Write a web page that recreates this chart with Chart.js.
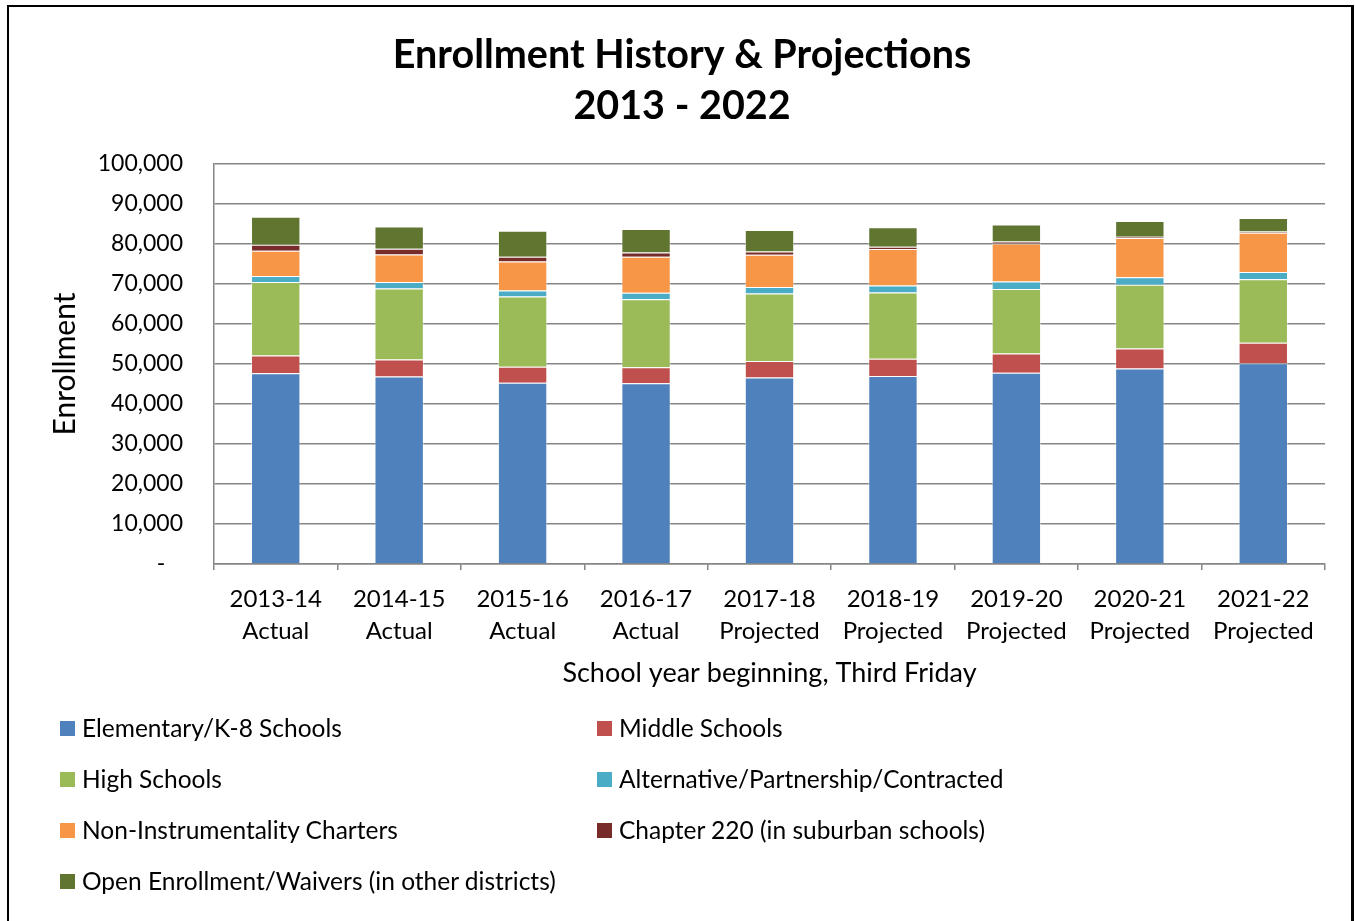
<!DOCTYPE html>
<html>
<head>
<meta charset="utf-8">
<script src="https://cdn.jsdelivr.net/npm/chart.js@4.4.1/dist/chart.umd.min.js"></script>
<style>
html,body{margin:0;padding:0;background:#fff;width:1355px;height:921px;overflow:hidden;}
#frame{position:absolute;left:7px;top:5px;width:1342px;height:960px;border-left:2px solid #000;border-top:2px solid #000;border-right:3px solid #000;box-sizing:content-box;}
#wrap{position:absolute;left:0;top:0;width:1355px;height:700px;}
#legend{position:absolute;left:0;top:0;width:1355px;height:921px;pointer-events:none;}
.leg{position:absolute;font-family:Lato,"DejaVu Sans",sans-serif;font-size:24.5px;line-height:30px;height:30px;color:#000;white-space:nowrap;}
.leg i{position:absolute;left:-22px;top:8px;width:15px;height:15px;display:block;}
</style>
</head>
<body>
<div id="frame"></div>
<div id="wrap"><canvas id="c" width="1355" height="700"></canvas></div>
<div id="legend"></div>
<script>
// ---- data ----
const categories = [
  ["2013-14","Actual"],["2014-15","Actual"],["2015-16","Actual"],["2016-17","Actual"],
  ["2017-18","Projected"],["2018-19","Projected"],["2019-20","Projected"],["2020-21","Projected"],["2021-22","Projected"]
];
const seriesNames = [
  "Elementary/K-8 Schools","Middle Schools","High Schools","Alternative/Partnership/Contracted",
  "Non-Instrumentality Charters","Chapter 220 (in suburban schools)","Open Enrollment/Waivers (in other districts)"
];
const elementary  = [47700,46900,45300,45200,46600,47000,47800,48900,50200];
const middle      = [4400,4200,4000,4000,4150,4300,4800,5000,5100];
const high        = [18400,17800,17600,17000,16850,16600,16150,15900,15900];
const alternative = [1500,1600,1500,1600,1650,1700,1850,1900,1800];
const charters    = [6300,6900,7200,9000,8050,9150,9500,9800,9800];
const chapter220  = [1500,1400,1200,1100,800,550,500,300,300];
const openEnroll  = [7000,5600,6500,5850,5400,4900,4300,3950,3400];
const yTicks = [0,10000,20000,30000,40000,50000,60000,70000,80000,90000,100000];
const titleLines = ["Enrollment History & Projections","2013 - 2022"];
const xTitle = "School year beginning, Third Friday";
const yTitle = "Enrollment";

const colors = ["#4F81BD","#C0504D","#9BBB59","#4BACC6","#F79646","#772C2A","#5F7530"];
const seriesValues = [elementary,middle,high,alternative,charters,chapter220,openEnroll];

const FONT = "Lato";
const gridColor = "#868686";

const datasets = seriesNames.map((n,i)=>({
  label:n,
  data:seriesValues[i],
  backgroundColor:colors[i],
  borderColor:"rgba(255,255,255,0.45)",
  borderWidth:1,
  barPercentage:0.4,
  categoryPercentage:1.0
}));

const chart = new Chart(document.getElementById('c'),{
  type:'bar',
  data:{labels:categories,datasets},
  options:{
    responsive:false,
    animation:false,
    devicePixelRatio:1,
    layout:{padding:{left:39,right:30,top:0,bottom:0}},
    plugins:{
      legend:{display:false},
      tooltip:{enabled:false},
      title:{
        display:true,
        text:titleLines,
        color:"#000",
        font:{family:FONT,size:39.5,weight:'bold',lineHeight:51/39.5},
        padding:{top:30,bottom:32}
      }
    },
    scales:{
      x:{
        stacked:true,
        afterFit:(s)=>{s.height=136;},
        grid:{display:true,drawOnChartArea:false,drawTicks:true,tickLength:6,offset:true,color:gridColor,lineWidth:1.5},
        border:{display:true,color:gridColor,width:1.5},
        ticks:{color:"#000",font:{family:FONT,size:24,lineHeight:1.34},padding:13,maxRotation:0,autoSkip:false},
        title:{display:true,text:xTitle,color:"#000",font:{family:FONT,size:27,lineHeight:1.2},padding:{top:0,bottom:11}}
      },
      y:{
        stacked:true,
        min:0,max:100000,
        afterFit:(s)=>{s.width=175;},
        afterBuildTicks:(s)=>{s.ticks=yTicks.map(v=>({value:v}));},
        grid:{display:true,drawTicks:false,color:gridColor,lineWidth:1.5},
        border:{display:true,color:gridColor,width:1.5},
        ticks:{color:"#000",font:{family:FONT,size:23},padding:31,
          callback:(v)=> v===0 ? "-   " : Number(v).toLocaleString('en-US')},
        title:{display:true,text:yTitle,color:"#000",font:{family:FONT,size:30,lineHeight:1.2},padding:{top:8,bottom:0}}
      }
    }
  }
});

// HTML legend built from chart datasets (2 columns)
const leg = document.getElementById('legend');
const colX = [82,619];
const rowY = [727.5,778.5,829.5,880.5];
chart.data.datasets.forEach((ds,i)=>{
  const d = document.createElement('div');
  d.className='leg';
  d.style.left = colX[i%2]+'px';
  d.style.top = (rowY[Math.floor(i/2)]-15)+'px';
  const b = document.createElement('i');
  b.style.background = ds.backgroundColor;
  d.appendChild(b);
  d.appendChild(document.createTextNode(ds.label));
  leg.appendChild(d);
});
</script>
</body>
</html>
